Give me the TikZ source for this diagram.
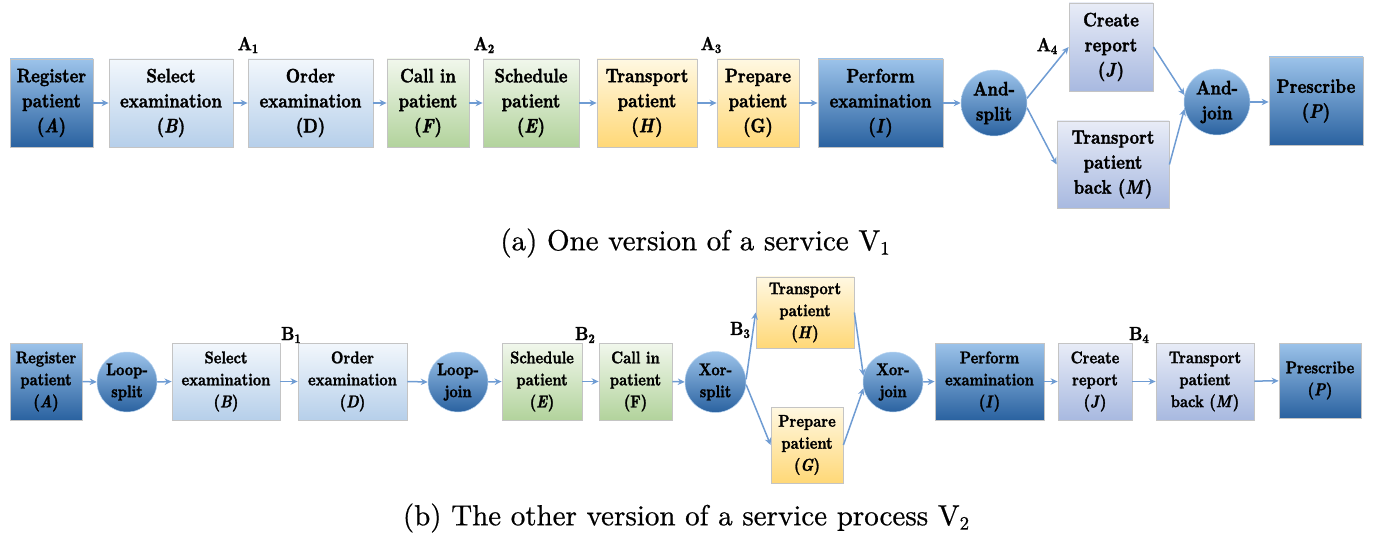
\documentclass[tikz,border=0pt]{standalone}
\usepackage{fontspec}
\newfontfamily\boxfont{lmroman10-bold.otf}[FakeStretch=0.85, FakeBold=1.6, ItalicFont=lmroman10-bolditalic.otf]
\newfontfamily\capfont{lmroman10-regular.otf}[FakeBold=0.7]
\usetikzlibrary{arrows.meta}

\definecolor{boxline}{HTML}{C4C4C4}
\definecolor{arrowc}{HTML}{6F9CD3}
\definecolor{dkT}{HTML}{9CC3EA}
\definecolor{dkB}{HTML}{2A62A0}
\definecolor{plT}{HTML}{F2F7FC}
\definecolor{plB}{HTML}{B6CFEA}
\definecolor{lvT}{HTML}{E8ECF7}
\definecolor{lvB}{HTML}{A8B9E0}
\definecolor{gnT}{HTML}{F1F7EC}
\definecolor{gnB}{HTML}{B2D39C}
\definecolor{ywT}{HTML}{FFF8E2}
\definecolor{ywB}{HTML}{FFD877}

% bold tag with a lowered index, e.g. A_1
\newcommand\tagidx[2]{#1\raisebox{-0.35ex}{\fontsize{13}{13}\selectfont #2}}
\newcommand\capidx[1]{\raisebox{-0.35ex}{\fontsize{19}{19}\selectfont #1}}

\begin{document}
\begin{tikzpicture}[x=1pt,y=-1pt,
  box/.style={draw=boxline, line width=0.8pt, align=center, inner sep=0pt,
    font=\boxfont\fontsize{19.5}{25}\selectfont},
  sbox/.style={box, font=\boxfont\fontsize{17}{22}\selectfont},
  dark/.style={top color=dkT, bottom color=dkB},
  pale/.style={top color=plT, bottom color=plB},
  lav/.style={top color=lvT, bottom color=lvB},
  grn/.style={top color=gnT, bottom color=gnB},
  ylw/.style={top color=ywT, bottom color=ywB},
  gate/.style={circle, dark, draw=dkT!70!white, line width=0.5pt, align=center, inner sep=0pt,
    font=\boxfont\fontsize{19.5}{25}\selectfont},
  sgate/.style={gate, font=\boxfont\fontsize{17}{22}\selectfont},
  tag/.style={inner sep=0pt, font=\boxfont\fontsize{19}{19}\selectfont},
  caption/.style={inner sep=0pt, font=\capfont\fontsize{29}{30}\selectfont},
  flow/.style={draw=arrowc, line width=1.5pt, -{Stealth[length=7pt,width=6.5pt]}},
]
\path[use as bounding box] (0,0) rectangle (1374,540);

% ---------- version V1 ----------
\node[box,dark,minimum width=83pt,minimum height=88pt] (a-A) at (51.5,103) {Register\\patient\\(\textit{A})};
\node[box,pale,minimum width=124pt,minimum height=88pt] (a-B) at (171,103) {Select\\examination\\(\textit{B})};
\node[box,pale,minimum width=125pt,minimum height=88pt] (a-D) at (310.5,103) {Order\\examination\\(D)};
\node[box,grn,minimum width=82pt,minimum height=88pt] (a-F) at (428,103) {Call in\\patient\\(\textit{F})};
\node[box,grn,minimum width=96pt,minimum height=88pt] (a-E) at (531,103) {Schedule\\patient\\(\textit{E})};
\node[box,ylw,minimum width=100pt,minimum height=88pt] (a-H) at (647,103) {Transport\\patient\\(\textit{H})};
\node[box,ylw,minimum width=82pt,minimum height=88pt] (a-G) at (758,103) {Prepare\\patient\\(G)};
\node[box,dark,minimum width=125pt,minimum height=88pt] (a-I) at (880.5,103) {Perform\\examination\\(\textit{I})};
\node[gate,minimum size=66pt] (a-as) at (994,103) {And-\\split};
\node[box,lav,minimum width=84pt,minimum height=88pt] (a-J) at (1111,47) {Create\\report\\(\textit{J})};
\node[box,lav,minimum width=112pt,minimum height=87pt] (a-M) at (1113,164.5) {Transport\\patient\\back (\textit{M})};
\node[gate,minimum size=66pt] (a-aj) at (1217,102) {And-\\join};
\node[box,dark,minimum width=94pt,minimum height=88pt] (a-P) at (1316,101) {Prescribe\\(\textit{P})};

\node[tag] (a-t1) at (248,45) {\tagidx{A}{1}};
\node[tag] (a-t2) at (484,45) {\tagidx{A}{2}};
\node[tag] (a-t3) at (711,45) {\tagidx{A}{3}};
\node[tag] (a-t4) at (1047,46) {\tagidx{A}{4}};

\draw[flow] (a-A) -- (a-B);
\draw[flow] (a-B) -- (a-D);
\draw[flow] (a-D) -- (a-F);
\draw[flow] (a-F) -- (a-E);
\draw[flow] (a-E) -- (a-H);
\draw[flow] (a-H) -- (a-G);
\draw[flow] (a-G) -- (a-I);
\draw[flow] (a-I.east) -- (a-as.west);
\draw[flow] (a-as.8) -- (a-J.west);
\draw[flow] (a-as.-8) -- (a-M.west);
\draw[flow] (a-J.east) -- (a-aj.168);
\draw[flow] (a-M.east) -- (a-aj.192);
\draw[flow] (a-aj.east) -- (a-P.west |- a-aj.east);

\node[caption] (cap-a) at (695,243) {(a) One version of a service V\capidx{1}};

% ---------- version V2 ----------
\node[sbox,dark,minimum width=72pt,minimum height=77pt] (b-A) at (46,381.5) {Register\\patient\\(\textit{A})};
\node[sgate,minimum size=60pt] (b-ls) at (127,382) {Loop-\\split};
\node[sbox,pale,minimum width=108pt,minimum height=77pt] (b-B) at (226,381.5) {Select\\examination\\(\textit{B})};
\node[sbox,pale,minimum width=109pt,minimum height=77pt] (b-D) at (352.5,381.5) {Order\\examination\\(\textit{D})};
\node[sgate,minimum size=60pt] (b-lj) at (458,382) {Loop-\\join};
\node[sbox,grn,minimum width=80pt,minimum height=77pt] (b-E) at (542,381.5) {Schedule\\patient\\(\textit{E})};
\node[sbox,grn,minimum width=73pt,minimum height=77pt] (b-F) at (635.5,381.5) {Call in\\patient\\(F)};
\node[sgate,minimum size=61pt] (b-xs) at (715.5,382) {Xor-\\split};
\node[sbox,ylw,minimum width=98pt,minimum height=71pt] (b-H) at (805,312.5) {Transport\\patient\\(\textit{H})};
\node[sbox,ylw,minimum width=72pt,minimum height=76pt] (b-G) at (807,445) {Prepare\\patient\\(\textit{G})};
\node[sgate,minimum size=60pt] (b-xj) at (893,382) {Xor-\\join};
\node[sbox,dark,minimum width=109pt,minimum height=77pt] (b-I) at (989.5,381.5) {Perform\\examination\\(\textit{I})};
\node[sbox,lav,minimum width=74pt,minimum height=77pt] (b-J) at (1095,381.5) {Create\\report\\(\textit{J})};
\node[sbox,lav,minimum width=98pt,minimum height=77pt] (b-M) at (1205,381.5) {Transport\\patient\\back (\textit{M})};
\node[sbox,dark,minimum width=82pt,minimum height=75pt] (b-P) at (1320,380.5) {Prescribe\\(\textit{P})};

\node[tag] (b-t1) at (291,335) {\tagidx{B}{1}};
\node[tag] (b-t2) at (585,335) {\tagidx{B}{2}};
\node[tag] (b-t3) at (740,330) {\tagidx{B}{3}};
\node[tag] (b-t4) at (1139,335) {\tagidx{B}{4}};

\draw[flow] (b-A.east) -- (b-ls.west);
\draw[flow] (b-ls.east) -- (b-B.west);
\draw[flow] (b-B) -- (b-D);
\draw[flow] (b-D.east) -- (b-lj.west);
\draw[flow] (b-lj.east) -- (b-E.west);
\draw[flow] (b-E) -- (b-F);
\draw[flow] (b-F.east) -- (b-xs.west);
\draw[flow] (b-xs.5) -- (b-H.west);
\draw[flow] (b-xs.-5) -- (b-G.west);
\draw[flow] (b-H.east) -- (b-xj.168);
\draw[flow] (b-G.east) -- (b-xj.192);
\draw[flow] (b-xj.east) -- (b-I.west);
\draw[flow] (b-I) -- (b-J);
\draw[flow] (b-J) -- (b-M);
\draw[flow] (b-M) -- (b-P);

\node[caption] (cap-b) at (686,518) {(b) The other version of a service process V\capidx{2}};
\end{tikzpicture}
\end{document}
